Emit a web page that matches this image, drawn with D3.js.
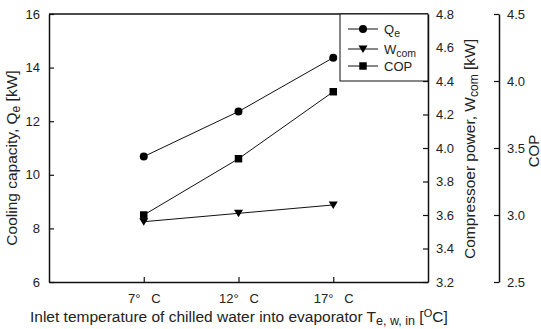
<!DOCTYPE html>
<html>
<head>
<meta charset="utf-8">
<script src="https://cdn.jsdelivr.net/npm/d3@7"></script>
<style>
  body { margin: 0; background: #fff; }
  text { font-family: "Liberation Sans", Arial, sans-serif; fill: #222; }
</style>
</head>
<body>
<div id="chart"></div>
<script>
var width = 541, height = 329;
var margin = { top: 14, right: 113, bottom: 47, left: 49 };

// data
var temps = [7, 12, 17];
var tempLabels = ["7°   C", "12°   C", "17°   C"];
var qe = [10.68, 12.36, 14.37];
var wcom = [3.56, 3.61, 3.66];
var cop = [3.0, 3.42, 3.92];

var leftTicks = [6, 8, 10, 12, 14, 16];
var rightTicks = [3.2, 3.4, 3.6, 3.8, 4.0, 4.2, 4.4, 4.6, 4.8];
var copTicks = [2.5, 3.0, 3.5, 4.0, 4.5];

var plotW = width - margin.left - margin.right;
var plotH = height - margin.top - margin.bottom;

var svg = d3.select("#chart").append("svg")
    .attr("width", width)
    .attr("height", height);

var g = svg.append("g").attr("transform", `translate(${margin.left}, ${margin.top})`);

var x = d3.scaleLinear().domain([2, 22]).range([0, plotW]);
var yL = d3.scaleLinear().domain([6, 16]).range([plotH, 0]);
var yR = d3.scaleLinear().domain([3.2, 4.8]).range([plotH, 0]);
var yC = d3.scaleLinear().domain([2.5, 4.5]).range([plotH, 0]);

function styleAxis(sel) {
    sel.selectAll("path").attr("stroke", "#111").attr("stroke-width", 1.5);
    sel.selectAll("line").attr("stroke", "#111").attr("stroke-width", 1.2);
    sel.selectAll("text").attr("font-size", 13).attr("fill", "#222")
        .attr("font-family", "Liberation Sans, Arial, sans-serif");
}

// top border
g.append("line").attr("x1", 0).attr("x2", plotW).attr("y1", 0).attr("y2", 0)
    .attr("stroke", "#111").attr("stroke-width", 1.5);

// x axis
g.append("g")
    .attr("transform", `translate(0, ${plotH})`)
    .call(d3.axisBottom(x).tickValues(temps).tickSize(-5).tickSizeOuter(0).tickPadding(12)
        .tickFormat(function (d, i) { return tempLabels[i]; }))
    .call(styleAxis)
    .selectAll("text").attr("xml:space", "preserve").style("white-space", "pre");

// left axis
g.append("g")
    .call(d3.axisLeft(yL).tickValues(leftTicks).tickSize(-5).tickSizeOuter(0).tickPadding(9))
    .call(styleAxis);

// right axis (W_com)
g.append("g")
    .attr("transform", `translate(${plotW}, 0)`)
    .call(d3.axisRight(yR).tickValues(rightTicks).tickSize(-5).tickSizeOuter(0).tickPadding(8)
        .tickFormat(d3.format(".1f")))
    .call(styleAxis);

// COP axis
g.append("g")
    .attr("transform", `translate(${plotW + 71}, 0)`)
    .call(d3.axisRight(yC).tickValues(copTicks).tickSize(-5).tickSizeOuter(0).tickPadding(8)
        .tickFormat(d3.format(".1f")))
    .call(styleAxis);

// series
function series(vals, scale, shape) {
    var pts = temps.map(function (t, i) { return [x(t), scale(vals[i])]; });
    g.append("path").datum(pts)
        .attr("d", d3.line())
        .attr("fill", "none").attr("stroke", "#111").attr("stroke-width", 1);
    g.selectAll(null).data(pts).enter().append("path")
        .attr("transform", function (d) { return `translate(${d[0]}, ${d[1]})`; })
        .attr("d", shape)
        .attr("fill", "#000");
}

var circle = d3.symbol().type(d3.symbolCircle).size(50)();
var square = d3.symbol().type(d3.symbolSquare).size(56)();
var triDown = "M-4.5,-3.5L4.5,-3.5L0,4Z";

series(qe, yL, circle);
series(wcom, yR, triDown);
series(cop, yC, square);

// legend
var leg = g.append("g").attr("transform", `translate(${plotW - 88}, 0)`);
leg.append("rect").attr("width", 88).attr("height", 67)
    .attr("fill", "#fff").attr("stroke", "#111").attr("stroke-width", 1);
var legItems = [
    { shape: circle, main: "Q", sub: "e", y: 15 },
    { shape: triDown, main: "W", sub: "com", y: 35 },
    { shape: square, main: "COP", sub: "", y: 52 }
];
legItems.forEach(function (d) {
    leg.append("line").attr("x1", 8).attr("x2", 38).attr("y1", d.y).attr("y2", d.y)
        .attr("stroke", "#111").attr("stroke-width", 1);
    leg.append("path").attr("d", d.shape).attr("transform", `translate(23, ${d.y})`).attr("fill", "#000");
    var t = leg.append("text").attr("x", 44).attr("y", d.y + 4.5).attr("font-size", 13);
    t.append("tspan").text(d.main);
    if (d.sub) t.append("tspan").attr("dy", 3).attr("font-size", 10.5).text(d.sub);
});

// axis titles
var ltitle = svg.append("text")
    .attr("transform", `translate(17, 158) rotate(-90)`)
    .attr("text-anchor", "middle").attr("font-size", 15.5);
ltitle.append("tspan").text("Cooling capacity, Q");
ltitle.append("tspan").attr("dy", 3).attr("font-size", 12).text("e");
ltitle.append("tspan").attr("dy", -3).text(" [kW]");

var rtitle = svg.append("text")
    .attr("transform", `translate(475, 149) rotate(-90)`)
    .attr("text-anchor", "middle").attr("font-size", 15.5);
rtitle.append("tspan").text("Compressoer power, W");
rtitle.append("tspan").attr("dy", 3).attr("font-size", 12).text("com");
rtitle.append("tspan").attr("dy", -3).text(" [kW]");

svg.append("text")
    .attr("transform", `translate(539, 151) rotate(-90)`)
    .attr("text-anchor", "middle").attr("font-size", 15)
    .text("COP");

var xtitle = svg.append("text")
    .attr("x", 30).attr("y", 322)
    .attr("font-size", 15.5);
xtitle.append("tspan").text("Inlet temperature of chilled water into evaporator T");
xtitle.append("tspan").attr("dy", 3).attr("font-size", 12.5).text("e, w, in");
xtitle.append("tspan").attr("dy", -3).text(" [");
xtitle.append("tspan").attr("dy", -5).attr("font-size", 11).text("O");
xtitle.append("tspan").attr("dy", 5).text("C]");
</script>
</body>
</html>
